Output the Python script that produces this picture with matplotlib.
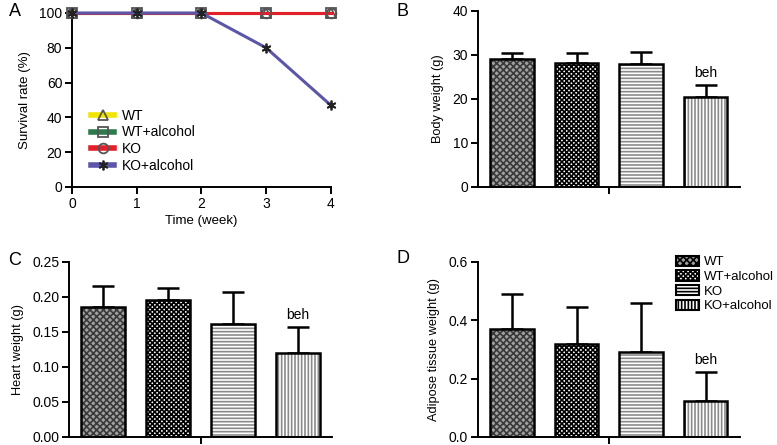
import matplotlib.pyplot as plt
import matplotlib.patches as mpatches
from matplotlib.lines import Line2D

plt.rcParams['font.family'] = ['Liberation Sans', 'DejaVu Sans']
plt.rcParams['hatch.linewidth'] = 1.2

# survival (panel A)
weeks = [0, 1, 2, 3, 4]
surv_wt = [100, 100, 100, 100, 100]
surv_wt_alc = [100, 100, 100, 100, 100]
surv_ko = [100, 100, 100, 100, 100]
surv_ko_alc = [100, 100, 100, 80, 47]

groups = ['WT', 'WT+alcohol', 'KO', 'KO+alcohol']
body_mean = [29.2, 28.2, 27.9, 20.4]
body_err = [1.2, 2.2, 2.7, 2.8]
heart_mean = [0.185, 0.195, 0.162, 0.120]
heart_err = [0.030, 0.018, 0.045, 0.037]
adipose_mean = [0.37, 0.32, 0.29, 0.125]
adipose_err = [0.12, 0.125, 0.17, 0.097]

# fill colour, hatch colour, hatch
styles = [('#a0a0a0', '#3a3a3a', 'xxxxx'),
          ('white', 'black', 'xxxxxxx'),
          ('white', '#8a8a8a', '-----'),
          ('white', '#8a8a8a', '|||||')]

fig = plt.figure(figsize=(7.77, 4.45), dpi=100)


def style_axes(ax):
    for s in ['top', 'right']:
        ax.spines[s].set_visible(False)
    for s in ['left', 'bottom']:
        ax.spines[s].set_linewidth(1.4)
    ax.tick_params(width=1.4, length=5, labelsize=10, pad=2)


# ---- A ----
axA = fig.add_axes([0.0927, 0.5798, 0.333, 0.391])
star = (6, 2, 0)
line_styles = [
    (surv_wt, '#f0e400', '^', '#555555'),
    (surv_wt_alc, '#2e7a4c', 's', '#555555'),
    (surv_ko, '#e3202a', 'o', '#555555'),
    (surv_ko_alc, '#5b56a8', star, '#222222'),
]
handles = []
for (vals, col, mk, mec), name in zip(line_styles, groups):
    axA.plot(weeks, vals, color=col, lw=2.2, marker=mk, ms=7, mfc='none',
             mec=mec, mew=1.3, clip_on=False, zorder=3)
    handles.append(Line2D([], [], color=col, lw=4, marker=mk, ms=7, mfc='none',
                          mec=mec, mew=1.3))
axA.set_xlim(0, 4)
axA.set_ylim(0, 100)
axA.set_xticks(weeks)
axA.set_yticks([0, 20, 40, 60, 80, 100])
style_axes(axA)
axA.set_xlabel('Time (week)', fontsize=9.5, labelpad=3)
axA.set_ylabel('Survival rate (%)', fontsize=9.5, labelpad=6)
axA.legend(handles, groups, loc='upper left', bbox_to_anchor=(0.075, 0.45), frameon=False,
           fontsize=10, handlelength=1.6, labelspacing=0.2, handletextpad=0.6,
           borderaxespad=0, borderpad=0)
fig.text(0.012, 0.965, 'A', fontsize=13)


def bar_panel(rect, means, errs, ylim, yticks, fmt, ylabel, letter, lpos):
    ax = fig.add_axes(rect)
    x = list(range(len(means)))
    for i, (m, e) in enumerate(zip(means, errs)):
        fc, hc, h = styles[i]
        ax.bar(i, m, width=0.68, color=fc, edgecolor=hc, hatch=h, linewidth=0, zorder=2)
        ax.bar(i, m, width=0.68, fill=False, edgecolor='black', linewidth=1.8, zorder=3)
        ax.errorbar(i, m, yerr=[[0], [e]], color='black', elinewidth=1.8, capsize=8,
                    capthick=1.8, zorder=1)
    ax.text(x[-1], means[-1] + errs[-1] + (ylim[1] * 0.03), 'beh', ha='center', va='bottom',
            fontsize=10)
    ax.set_xlim(-0.53, 3.53)
    ax.set_ylim(*ylim)
    ax.set_xticks([1.5])
    ax.set_xticklabels([''])
    ax.set_yticks(yticks)
    ax.set_yticklabels([fmt.format(v) for v in yticks])
    style_axes(ax)
    ax.set_ylabel(ylabel, fontsize=9.2, labelpad=6)
    fig.text(lpos[0], lpos[1], letter, fontsize=13)
    return ax


bar_panel([0.615, 0.5798, 0.337, 0.3955], body_mean, body_err, (0, 40), [0, 10, 20, 30, 40],
          '{:.0f}', 'Body weight (g)', 'B', (0.51, 0.965))
bar_panel([0.0888, 0.018, 0.3385, 0.3933], heart_mean, heart_err, (0, 0.25),
          [0, 0.05, 0.10, 0.15, 0.20, 0.25], '{:.2f}', 'Heart weight (g)', 'C', (0.010, 0.405))
axD = bar_panel([0.615, 0.018, 0.337, 0.3933], adipose_mean, adipose_err, (0, 0.6),
                [0, 0.2, 0.4, 0.6], '{:.1f}', 'Adipose tissue weight (g)', 'D', (0.51, 0.41))

leg_patches = [mpatches.Patch(facecolor=fc, edgecolor='black', hatch=h, linewidth=1.5)
               for fc, hc, h in styles]
axD.legend(leg_patches, groups, loc='upper left', bbox_to_anchor=(0.757, 1.035), frameon=False,
           fontsize=9.5, handlelength=1.7, handleheight=0.8, labelspacing=0.15,
           handletextpad=0.4, borderaxespad=0, borderpad=0)

fig.savefig('out.png', dpi=100)
